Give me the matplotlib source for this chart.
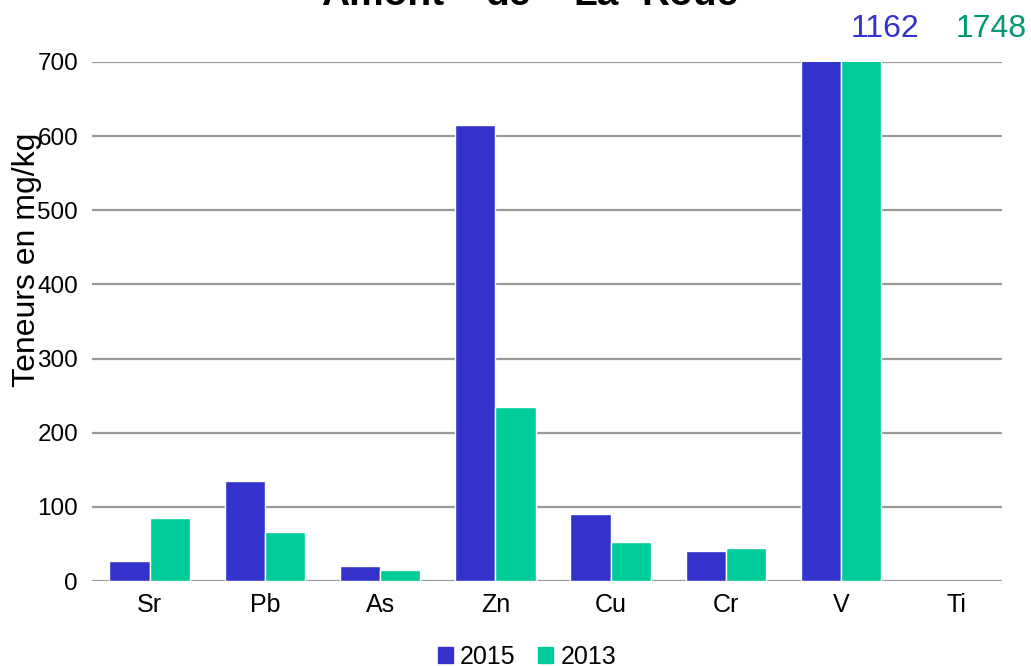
import numpy as np
import matplotlib.pyplot as plt
from matplotlib.patches import Patch

plt.rcParams['font.family'] = ['Liberation Sans', 'DejaVu Sans']

# Teneurs mesurées (mg/kg) par élément
elements = ['Sr', 'Pb', 'As', 'Zn', 'Cu', 'Cr', 'V', 'Ti']
val_2015 = [27, 135, 20, 615, 90, 40, 1162, np.nan]
val_2013 = [85, 66, 15, 235, 53, 45, 1748, np.nan]
series = ['2015', '2013']
colors = ['#3333CC', '#00CC99']
label_colors = ['#3333CC', '#009973']

title_words = ['Amont', 'de', 'La', 'Roue']
title_x = [383, 508, 596, 690]

ymax = 700

fig = plt.figure(figsize=(10.31, 6.66), dpi=100)
W, H = 1031, 666
ax_w = 922
ax = fig.add_axes([92 / W, 1 - 581 / H, ax_w / W, (581 - 62) / H])

x = np.arange(len(elements))
bw = 0.35
ax.bar(x - bw / 2, val_2015, bw, color=colors[0], edgecolor='white', linewidth=1, zorder=3)
ax.bar(x + bw / 2, val_2013, bw, color=colors[1], edgecolor='white', linewidth=1, zorder=3)

ax.set_xlim(-0.5, len(elements) - 0.5)
ax.set_ylim(0, ymax)
ax.set_yticks(range(0, ymax + 1, 100))
# les lignes de grille s'arrêtent un peu avant le bord droit
grid_end = -0.5 + (1002 - 92) / (ax_w / len(elements))
ax.hlines(range(0, ymax + 1, 100), -0.5, grid_end, color='#999999', lw=1.6, zorder=1)

for s in ax.spines.values():
    s.set_visible(False)
ax.set_xticks(x)
ax.set_xticklabels(elements, fontsize=18)
ax.tick_params(axis='x', length=0, pad=9)
ax.tick_params(axis='y', length=0, labelsize=17.5, pad=10)
fig.text(27 / W, 1 - 260 / H, 'Teneurs en mg/kg', rotation=90, fontsize=23,
         ha='center', va='center')

# valeurs hors échelle affichées au-dessus du graphique
for xv, v, c in [(885, val_2015[6], label_colors[0]), (991, val_2013[6], label_colors[1])]:
    fig.text(xv / W, 1 - 37 / H, f'{v:.0f}', color=c, fontsize=23, ha='center', va='baseline')

for w, xw in zip(title_words, title_x):
    fig.text(xw / W, 1 - 5 / H, w, fontsize=28, fontweight='bold', ha='center', va='baseline')

handles = [Patch(color=c, label=s) for c, s in zip(colors, series)]
fig.legend(handles=handles, loc='center', bbox_to_anchor=(527 / W, 1 - 657 / H), ncol=2,
           frameon=False, fontsize=18, handlelength=0.6, handleheight=0.6,
           handletextpad=0.3, columnspacing=0.9)

fig.savefig('out.png', dpi=100)
